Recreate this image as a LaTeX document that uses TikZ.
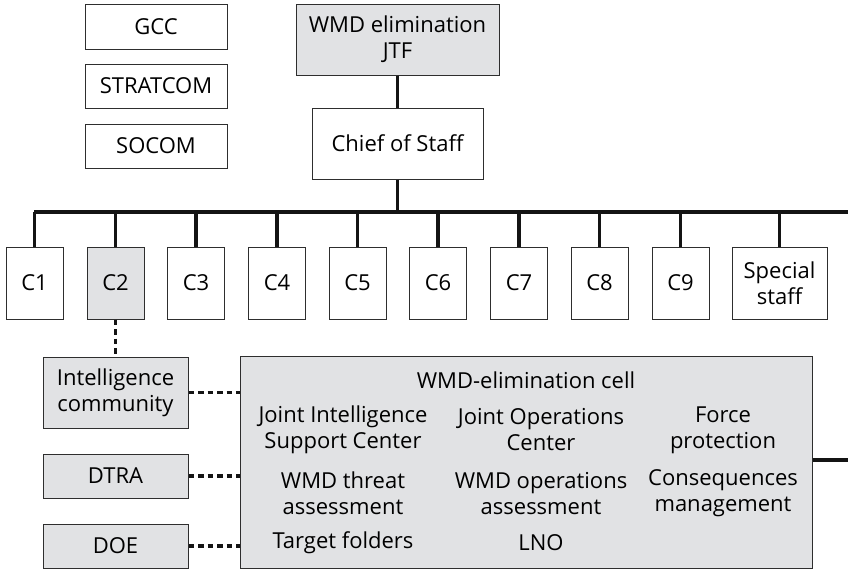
\documentclass[tikz,border=0pt]{standalone}
\usepackage{fontspec}
\setmainfont{Open Sans}
\definecolor{cellgray}{HTML}{E1E2E4}
\definecolor{edge}{HTML}{2E2E2E}
\begin{document}
\begin{tikzpicture}[x=1pt,y=-1pt,
  txt/.style={inner sep=0pt, align=center, font=\fontsize{22}{26}\selectfont, text=black},
  box/.style={txt, draw=edge, line width=1pt, fill=white},
  gbox/.style={box, fill=cellgray},
  thickline/.style={line width=4.2pt, black!92},
  stub/.style={line width=3.6pt, black!92},
  dotline/.style={line width=3.6pt, black!92, dash pattern=on 5.5pt off 4pt}]
\useasboundingbox (0,0) rectangle (848,570);
% top boxes
\node[box, minimum width=142, minimum height=45] (gcc) at (156,26.5) {GCC};
\node[box, minimum width=142, minimum height=44] (strat) at (156,86) {STRATCOM};
\node[box, minimum width=142, minimum height=44] (socom) at (156,146) {SOCOM};
\node[gbox, minimum width=203, minimum height=71] (jtf) at (397.5,39.5) {WMD elimination\\JTF};
\node[box, minimum width=171, minimum height=71] (cos) at (397.5,143.5) {Chief of Staff};
% bus
\coordinate (busL) at (34,212);
\coordinate (busR) at (848,212);
\draw[stub] (jtf.south) -- (cos.north);
\draw[stub] (cos.south) -- (cos.south |- busL);
\draw[thickline] (busL) -- (busR);
% C boxes
\foreach \n/\x/\lab in {c1/34.5/C1, c3/196/C3, c4/277/C4, c5/357.5/C5, c6/438/C6, c7/519/C7, c8/599.5/C8, c9/680.5/C9}{
  \node[box, minimum width=57, minimum height=72] (\n) at (\x,283) {\lab};
  \draw[stub] (\n.north) -- (\n.north |- busL);
}
\node[gbox, minimum width=57, minimum height=72] (c2) at (115.5,283) {C2};
\draw[stub] (c2.north) -- (c2.north |- busL);
\node[box, minimum width=95, minimum height=72] (spec) at (779.5,283) {Special\\staff};
\draw[stub] (spec.north) -- (spec.north |- busL);
% lower left boxes
\node[gbox, minimum width=145, minimum height=71] (ic) at (115.5,392.5) {Intelligence\\community};
\node[gbox, minimum width=145, minimum height=44] (dtra) at (115.5,476) {DTRA};
\node[gbox, minimum width=145, minimum height=44] (doe) at (115.5,546) {DOE};
% cell
\node[gbox, minimum width=572, minimum height=212] (cell) at (526,462) {};
\node[txt] (title) at (526,380) {WMD-elimination cell};
\node[txt] (jisc) at (343,430) {Joint Intelligence\\Support Center};
\node[txt] (wta) at (343,493.5) {WMD threat\\assessment};
\node[txt] (tf) at (343,543) {Target folders};
\node[txt] (joc) at (541,430) {Joint Operations\\Center};
\node[txt] (woa) at (541,493.5) {WMD operations\\assessment};
\node[txt] (lno) at (541,543) {LNO};
\node[txt] (fp) at (723,430) {Force\\protection};
\node[txt] (cm) at (723,493.5) {Consequences\\management};
\coordinate (cellR) at (848,460);
\draw[stub] (cell.east |- cellR) -- (cellR);
% dotted links
\draw[dotline] (c2.south) -- (ic.north);
\draw[dotline] (ic.east) -- (ic.east -| cell.west);
\draw[dotline] (dtra.east) -- (dtra.east -| cell.west);
\draw[dotline] (doe.east) -- (doe.east -| cell.west);
\end{tikzpicture}
\end{document}
